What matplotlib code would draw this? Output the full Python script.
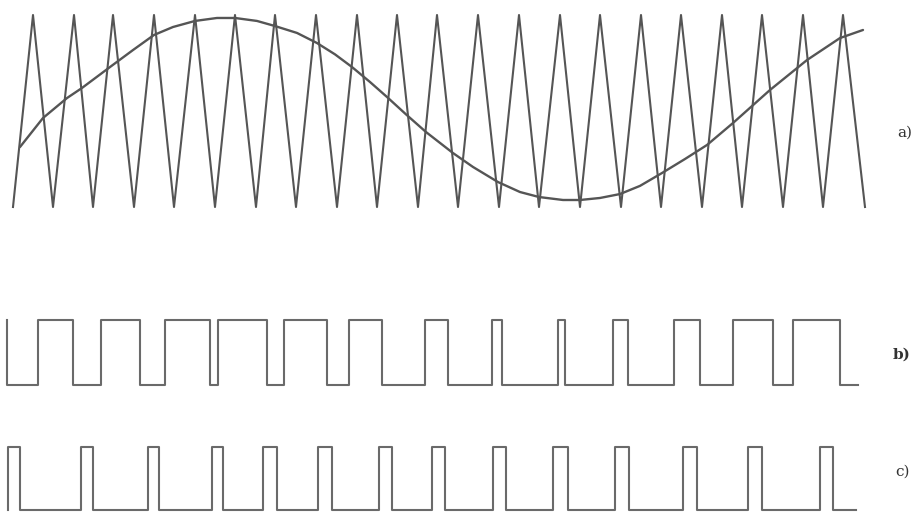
"""
Sinusoidal PWM sketch: a) triangular carrier with the sine reference,
b) and c) the resulting switching signals.
"""

import matplotlib.pyplot as plt
import numpy as np

# time axis is in image-width units (0..917)
carrier_t = [13, 33, 53, 74, 93, 113, 134, 154, 174, 195, 215, 235, 256, 275,
             296, 316, 337, 357, 377, 397, 418, 437, 458, 478, 499, 519, 539,
             560, 580, 600, 621, 641, 661, 681, 702, 722, 742, 762, 783, 803,
             823, 843, 865]
carrier_v = [-1, 1] * 21 + [-1]

ref_t = [20, 43, 67, 82, 110, 133, 154, 173, 195, 217, 235, 257, 275, 297,
         317, 335, 352, 370, 387, 406, 426, 453, 473, 498, 520, 539, 563, 580,
         600, 620, 640, 662, 685, 707, 733, 770, 807, 840, 863]
ref_v = [-0.375, -0.073, 0.135, 0.240, 0.458, 0.635, 0.792, 0.875, 0.938,
         0.969, 0.969, 0.938, 0.885, 0.813, 0.708, 0.590, 0.458, 0.302,
         0.146, -0.035, -0.219, -0.438, -0.583, -0.740, -0.844, -0.896,
         -0.927, -0.927, -0.906, -0.865, -0.780, -0.646, -0.500, -0.354,
         -0.125, 0.219, 0.531, 0.760, 0.844]

pwm_b_t = [7, 7, 38, 73, 101, 140, 165, 210, 218, 267, 284, 327, 349, 382,
           425, 448, 492, 502, 558, 565, 613, 628, 674, 700, 733, 773, 793,
           840, 858]
pwm_b_level = [1, 0, 1, 0, 1, 0, 1, 0, 1, 0, 1, 0, 1, 0, 1, 0, 1, 0, 1, 0,
               1, 0, 1, 0, 1, 0, 1, 0, 0]

pwm_c_t = [8, 8, 20, 81, 93, 148, 159, 212, 223, 263, 277, 318, 332, 379,
           392, 432, 445, 493, 506, 553, 568, 615, 629, 683, 697, 748, 762,
           820, 833, 856]
pwm_c_level = [0, 1, 0, 1, 0, 1, 0, 1, 0, 1, 0, 1, 0, 1, 0, 1, 0, 1, 0, 1,
               0, 1, 0, 1, 0, 1, 0, 1, 0, 0]

panel_labels = ["a)", "b)", "c)"]

W, H = 917, 516


def make_axes(fig, top_px, bottom_px, ylim):
  ax = fig.add_axes([0, (H - bottom_px) / H, 1, (bottom_px - top_px) / H])
  ax.set_xlim(0, W)
  ax.set_ylim(*ylim)
  ax.axis("off")
  return ax


def main() -> None:
  fig = plt.figure(figsize=(W / 100, H / 100), dpi=100)
  fig.patch.set_facecolor("white")

  ax_a = make_axes(fig, 15, 207, (-1, 1))
  ax_a.plot(carrier_t, carrier_v, color="#555555", lw=1.5, clip_on=False)
  ax_a.plot(ref_t, ref_v, color="#555555", lw=1.7, clip_on=False,
            solid_capstyle="round", solid_joinstyle="round")

  ax_b = make_axes(fig, 320, 385, (0, 1))
  ax_b.step(pwm_b_t, pwm_b_level, where="post", color="#6a6a6a", lw=1.5,
            clip_on=False)

  ax_c = make_axes(fig, 447, 510, (0, 1))
  ax_c.step(pwm_c_t, pwm_c_level, where="post", color="#6a6a6a", lw=1.5,
            clip_on=False)

  label_pos = [(905, 133), (902, 355), (902, 472)]
  for (x, y), lab in zip(label_pos, panel_labels):
    fig.text(x / W, 1 - y / H, lab, ha="center", va="center", fontsize=11,
             family="DejaVu Serif", color="#333333",
             fontweight="bold" if lab == "b)" else "normal")

  fig.savefig("out.png", dpi=100, facecolor="white")


if __name__ == "__main__":
  main()
